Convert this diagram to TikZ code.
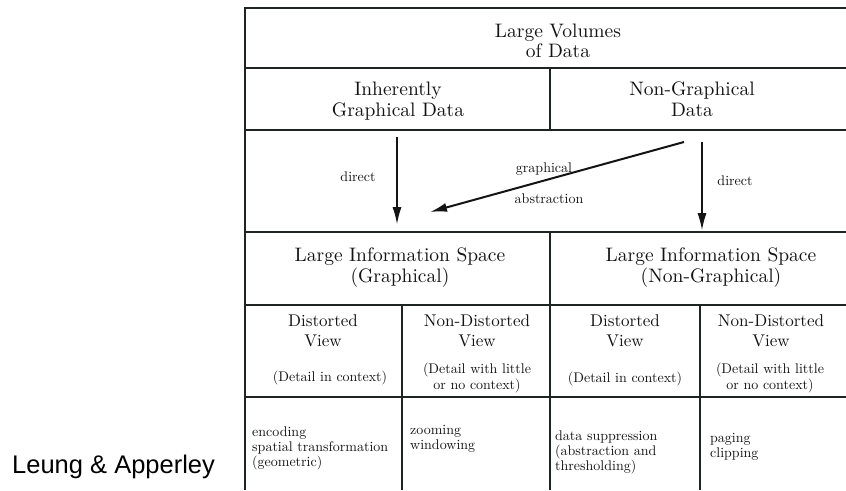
\documentclass[tikz,border=0pt]{standalone}
\usepackage{fontspec}
% 10pt design of Latin Modern at every size, for its wider letters
\setmainfont{lmroman10-regular.otf}
\newfontfamily\captionfont{Liberation Sans}
\usetikzlibrary{arrows.meta}

\definecolor{rule}{HTML}{1E2422}
\definecolor{ink}{HTML}{141414}

% multi-line nodes are anchored at the baseline of their last line
\tikzset{
  grid/.style={draw=rule, line width=1.8pt},
  head/.style={align=center, anchor=base, inner sep=0pt, text=ink,
    font=\fontsize{19.5}{20.5}\selectfont},
  view/.style={align=center, anchor=base, inner sep=0pt, text=ink,
    font=\fontsize{17}{20}\selectfont},
  small/.style={align=center, anchor=base, inner sep=0pt, text=ink,
    font=\fontsize{14}{16}\selectfont},
  listing/.style={align=left, anchor=base west, inner sep=0pt, text=ink,
    font=\fontsize{14}{15}\selectfont},
  flow/.style={draw=ink, line width=1.1pt,
    -{Latex[length=17pt,width=9pt]}},
  flowthick/.style={flow, line width=2pt}
}

\begin{document}
\begin{tikzpicture}[x=1pt,y=-1pt]
\useasboundingbox (0,0) rectangle (846,490);
\fill[white] (0,0) rectangle (846,490);

% table rules
\draw[grid] (245,490) -- (245,8) -- (846,8);
\foreach \yy in {68,130,232,305,397}
  \draw[grid] (245,\yy) -- (846,\yy);
\draw[grid] (550,68) -- (550,130);
\draw[grid] (550,232) -- (550,490);
\draw[grid] (402,305) -- (402,490);
\draw[grid] (700,305) -- (700,490);

% header cells
\node[head] (volumes) at (558,57.5) {Large Volumes\\of Data};
\node[head] (inherent) at (398,116) {Inherently\\Graphical Data};
\node[head] (nongraph) at (692,116) {Non-Graphical\\Data};
\node[head] (spaceG) at (400,282) {Large Information Space\\(Graphical)};
\node[head] (spaceN) at (711,282) {Large Information Space\\(Non-Graphical)};

% view cells
\node[view] (distG) at (323,346) {Distorted\\View};
\node[view] (nondistG) at (477,346) {Non-Distorted\\View};
\node[view] (distN) at (625,346) {Distorted\\View};
\node[view] (nondistN) at (771,346) {Non-Distorted\\View};

\node[small] (ctxG) at (330,381) {(Detail in context)};
\node[small] (noctxG) at (477,389) {(Detail with little\\or no context)};
\node[small] (ctxN) at (625,382) {(Detail in context)};
\node[small] (noctxN) at (770,389) {(Detail with little\\or no context)};

% techniques
\node[listing] (techA) at (252,466) {encoding\\spatial transformation\\(geometric)};
\node[listing] (techB) at (410,449) {zooming\\windowing};
\node[listing] (techC) at (555,470) {data suppression\\(abstraction and\\thresholding)};
\node[listing] (techD) at (710,457) {paging\\clipping};

% arrows between the two rows
\coordinate (inhFoot) at (397,137);
\coordinate (gTipA) at (397,224);
\coordinate (ngFoot) at (684,142);
\coordinate (gTipB) at (430,212);
\coordinate (ngFootB) at (702,142);
\coordinate (nTip) at (702,230);

\draw[flow] (inhFoot) -- (gTipA);
\draw[flowthick] (ngFoot) -- (gTipB);
\draw[flow] (ngFootB) -- (nTip);

\node[small] (lblDirectA) at (358,181) {direct};
\node[small] (lblGraph) at (544,172) {graphical};
\node[small] (lblAbstr) at (549,203) {abstraction};
\node[small] (lblDirectB) at (735,185) {direct};

% attribution
\node[anchor=base west, inner sep=0pt, text=black,
  font=\captionfont\fontsize{25.5}{27}\selectfont] (credit) at (12,473) {Leung \& Apperley};
\end{tikzpicture}
\end{document}
